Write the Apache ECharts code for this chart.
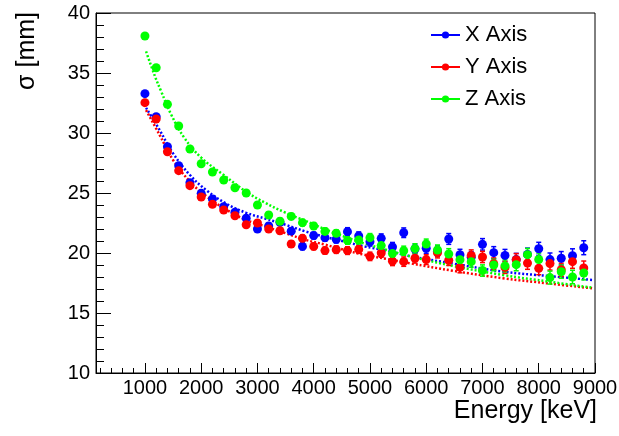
<!DOCTYPE html>
<html>
<head>
<meta charset="utf-8">
<script src="https://cdn.jsdelivr.net/npm/echarts@6/dist/echarts.min.js"></script>
<style>
  html, body { margin: 0; padding: 0; background: #fff; }
  #chart { width: 619px; height: 436px; }
</style>
</head>
<body>
<div id="chart"></div>
<script>
// energies of the measured points (keV)
const energies = [1000, 1200, 1400, 1600, 1800, 2000, 2200, 2400, 2600, 2800,
    3000, 3200, 3400, 3600, 3800, 4000, 4200, 4400, 4600, 4800,
    5000, 5200, 5400, 5600, 5800, 6000, 6200, 6400, 6600, 6800,
    7000, 7200, 7400, 7600, 7800, 8000, 8200, 8400, 8600, 8800];

const sigmaX = [33.28, 31.36, 28.86, 27.28, 25.86, 24.97, 24.5, 23.86, 23.4, 22.9,
    22.0, 22.25, 22.55, 21.82, 20.55, 21.45, 21.28, 21.15, 21.78, 21.42,
    20.94, 21.22, 20.5, 21.69, 20.33, 20.4, 20.15, 21.17, 19.85, 19.65,
    20.72, 20.03, 19.8, 19.45, 19.88, 20.35, 19.45, 19.56, 19.78, 20.44];
const sigmaY = [32.53, 31.17, 28.44, 26.86, 25.61, 24.67, 24.06, 23.58, 23.1, 22.35,
    22.5, 22.0, 21.85, 20.75, 21.22, 20.55, 20.2, 20.28, 20.2, 20.3,
    19.72, 20.0, 19.32, 19.28, 19.56, 19.45, 20.02, 19.4, 18.8, 19.8,
    19.67, 19.1, 18.8, 19.44, 19.16, 18.72, 19.12, 18.6, 19.28, 18.76];
const sigmaZ = [38.08, 35.44, 32.39, 30.58, 28.67, 27.44, 26.75, 26.08, 25.44, 25.0,
    24.0, 23.17, 22.65, 23.05, 22.53, 22.25, 21.8, 21.64, 21.05, 21.08,
    21.28, 20.62, 19.95, 20.19, 20.37, 20.75, 20.25, 19.92, 19.44, 19.28,
    18.54, 19.0, 18.93, 19.03, 19.86, 19.46, 17.95, 18.44, 18.0, 18.33];

const errX = [0.12, 0.12, 0.13, 0.14, 0.15, 0.16, 0.17, 0.18, 0.2, 0.2,
    0.22, 0.24, 0.25, 0.26, 0.28, 0.28, 0.3, 0.32, 0.33, 0.34,
    0.36, 0.37, 0.38, 0.4, 0.41, 0.42, 0.44, 0.45, 0.46, 0.47,
    0.48, 0.5, 0.5, 0.52, 0.53, 0.54, 0.55, 0.56, 0.57, 0.58];
const errY = [0.12, 0.12, 0.13, 0.13, 0.14, 0.15, 0.16, 0.18, 0.19, 0.2,
    0.21, 0.23, 0.24, 0.26, 0.27, 0.28, 0.29, 0.31, 0.32, 0.33,
    0.35, 0.36, 0.37, 0.39, 0.4, 0.41, 0.43, 0.44, 0.45, 0.46,
    0.47, 0.49, 0.5, 0.51, 0.52, 0.53, 0.54, 0.55, 0.56, 0.57];
const errZ = [0.12, 0.12, 0.13, 0.14, 0.15, 0.15, 0.16, 0.17, 0.19, 0.2,
    0.21, 0.23, 0.24, 0.25, 0.27, 0.28, 0.29, 0.3, 0.32, 0.33,
    0.34, 0.36, 0.37, 0.38, 0.4, 0.41, 0.42, 0.44, 0.45, 0.46,
    0.47, 0.48, 0.5, 0.51, 0.52, 0.53, 0.54, 0.55, 0.56, 0.57];

// fitted curves
const fitXE = [1020, 1260, 1500, 1800, 2100, 2450, 2800, 3150, 3500, 3850, 4200, 4550, 4900, 5300, 5700, 6500, 7360, 8200, 8960];
const fitXS = [32.1, 30.25, 28.3, 26.5, 25.2, 24.1, 23.35, 22.85, 22.35, 21.8, 21.35, 20.95, 20.55, 20.2, 19.75, 19.1, 18.45, 18.07, 17.75];
const fitYE = [1020, 1260, 1500, 1800, 2100, 2450, 2800, 3150, 3500, 3850, 4200, 4550, 4900, 5300, 5700, 6500, 7360, 8200, 8960];
const fitYS = [31.9, 29.85, 27.75, 25.95, 24.7, 23.6, 22.75, 22.2, 21.65, 21.1, 20.7, 20.25, 19.85, 19.5, 19.15, 18.5, 17.9, 17.45, 17.05];
const fitZE = [1020, 1180, 1290, 1470, 1700, 2000, 2400, 2800, 3130, 3480, 3840, 4190, 4550, 4900, 5260, 5730, 6500, 7360, 8200, 8960];
const fitZS = [36.8, 34.7, 33.45, 31.5, 29.6, 27.95, 26.5, 25.1, 24.2, 23.4, 22.7, 22.0, 21.35, 20.8, 20.3, 19.7, 18.9, 18.17, 17.6, 17.1];

const xMajorTicks = [1000, 2000, 3000, 4000, 5000, 6000, 7000, 8000, 9000];
const xMinorTicks = [];
for (let v = 200; v <= 9000; v += 200) xMinorTicks.push(v);

const FONT = 'Liberation Sans, Arial, Helvetica, sans-serif';
const BLUE = '#0000ff', RED = '#ff0000', GREEN = '#00ff00';

const chart = echarts.init(document.getElementById('chart'));

function pts(xs, ys) { return xs.map((x, i) => [x, ys[i]]); }
function errPts(xs, ys, es) { return xs.map((x, i) => [x, ys[i], es[i]]); }

function renderErr(params, api) {
    const x = api.value(0), y = api.value(1), e = api.value(2);
    const lo = api.coord([x, y - e]);
    const hi = api.coord([x, y + e]);
    const style = { stroke: api.visual('color'), lineWidth: 1.5 };
    return {
        type: 'group',
        children: [
            { type: 'line', shape: { x1: lo[0], y1: lo[1], x2: hi[0], y2: hi[1] }, style: style },
            { type: 'line', shape: { x1: lo[0] - 2.5, y1: lo[1], x2: lo[0] + 2.5, y2: lo[1] }, style: style },
            { type: 'line', shape: { x1: hi[0] - 2.5, y1: hi[1], x2: hi[0] + 2.5, y2: hi[1] }, style: style }
        ]
    };
}

function pointSeries(name, color, ys) {
    return {
        name: name, type: 'line', data: pts(energies, ys),
        symbol: 'circle', symbolSize: 9, showSymbol: true,
        itemStyle: { color: color }, lineStyle: { opacity: 0 },
        z: 5, animation: false
    };
}
function errSeries(name, color, ys, es) {
    return {
        name: name, type: 'custom', data: errPts(energies, ys, es),
        renderItem: renderErr, itemStyle: { color: color },
        encode: { x: 0, y: 1 }, z: 4, animation: false
    };
}
function fitSeries(name, color, xs, ys) {
    return {
        name: name, type: 'line', data: pts(xs, ys), smooth: 0.4,
        showSymbol: false, symbol: 'none',
        lineStyle: { color: color, width: 2.5, type: [2, 2] },
        z: 3, animation: false
    };
}

const option = {
    backgroundColor: '#fff',
    animation: false,
    grid: {
        left: 96, top: 13, width: 499, height: 360,
        outerBoundsMode: 'none', containLabel: false,
        show: true, borderColor: '#000', borderWidth: 1
    },
    legend: {
        orient: 'vertical', left: 430, top: 24, itemGap: 10, padding: 0,
        itemWidth: 29, itemHeight: 9,
        data: ['X Axis', 'Y Axis', 'Z Axis'],
        textStyle: { fontFamily: FONT, fontSize: 22, color: '#000' },
        lineStyle: { width: 2, opacity: 1, type: 'solid' }
    },
    xAxis: [{
        type: 'value', min: 130, max: 9000, position: 'bottom',
        axisLine: { show: true, lineStyle: { color: '#000', width: 1 } },
        axisTick: { show: true, inside: true, length: 10, customValues: xMajorTicks, lineStyle: { color: '#000' } },
        axisLabel: {
            customValues: xMajorTicks, formatter: v => String(v),
            fontFamily: FONT, fontSize: 20, color: '#000', margin: 5
        },
        splitLine: { show: false }
    }, {
        type: 'value', min: 130, max: 9000, position: 'bottom',
        axisLine: { show: false },
        axisTick: { show: true, inside: true, length: 5, customValues: xMinorTicks, lineStyle: { color: '#000' } },
        axisLabel: { show: false },
        splitLine: { show: false }
    }],
    yAxis: {
        type: 'value', min: 10, max: 40, interval: 5,
        axisLine: { show: true, lineStyle: { color: '#000', width: 1 } },
        axisTick: { show: true, inside: true, length: 15, lineStyle: { color: '#000' } },
        minorTick: { show: true, splitNumber: 5, length: 8, lineStyle: { color: '#000' } },
        axisLabel: { fontFamily: FONT, fontSize: 20, color: '#000', margin: 6 },
        splitLine: { show: false }
    },
    // axis titles, placed as ROOT does (right / top aligned)
    graphic: [{
        type: 'text', x: 27, y: 12, rotation: Math.PI / 2,
        style: { text: 'σ [mm]', font: '25px ' + FONT, fill: '#000', align: 'right', verticalAlign: 'middle' }
    }, {
        type: 'text', x: 597, y: 411,
        style: { text: 'Energy [keV]', font: '25px ' + FONT, fill: '#000', align: 'right', verticalAlign: 'middle' }
    }],
    series: [
        fitSeries('X fit', BLUE, fitXE, fitXS),
        fitSeries('Y fit', RED, fitYE, fitYS),
        fitSeries('Z fit', GREEN, fitZE, fitZS),
        errSeries('X err', BLUE, sigmaX, errX),
        errSeries('Y err', RED, sigmaY, errY),
        errSeries('Z err', GREEN, sigmaZ, errZ),
        pointSeries('X Axis', BLUE, sigmaX),
        pointSeries('Y Axis', RED, sigmaY),
        pointSeries('Z Axis', GREEN, sigmaZ)
    ]
};

chart.setOption(option);
</script>
</body>
</html>
